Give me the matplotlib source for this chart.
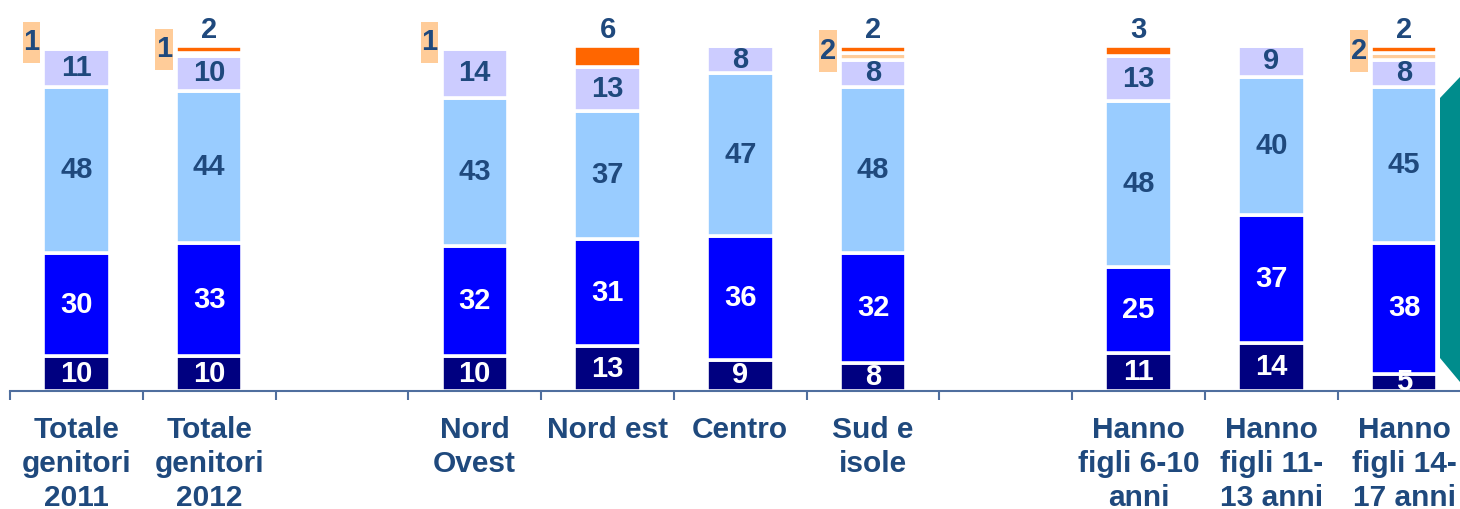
import matplotlib
matplotlib.use("Agg")
import matplotlib.pyplot as plt
from matplotlib.patches import Polygon, Rectangle

plt.rcParams['font.family'] = ['Liberation Sans', 'DejaVu Sans']

# slot labels; empty strings are the blank gaps between groups
categories = ["Totale\ngenitori\n2011", "Totale\ngenitori\n2012", "",
              "Nord\nOvest", "Nord est", "Centro", "Sud e\nisole", "",
              "Hanno\nfigli 6-10\nanni", "Hanno\nfigli 11-\n13 anni",
              "Hanno\nfigli 14-\n17 anni"]

# series, bottom to top (one value per non-empty category)
s_navy = [10, 10, 10, 13, 9, 8, 11, 14, 5]
s_blue = [30, 33, 32, 31, 36, 32, 25, 37, 38]
s_light = [48, 44, 43, 37, 47, 48, 48, 40, 45]
s_lav = [11, 10, 14, 13, 8, 8, 13, 9, 8]
s_peach = [1, 1, 1, 0, 0, 2, 0, 0, 2]
s_orange = [0, 2, 0, 6, 0, 2, 3, 0, 2]

series = [s_navy, s_blue, s_light, s_lav, s_peach, s_orange]
colors = ['#000080', '#0000FF', '#99CCFF', '#CCCCFF', '#FFCC99', '#FF6600']
txt_colors = ['white', 'white', '#1F497D', '#1F497D', None, None]

label_blue = '#1F497D'
axis_col = '#4F6E9E'
val_size = 21

xs = [i for i, c in enumerate(categories) if c]

fig = plt.figure(figsize=(14.6, 5.09), dpi=100)
ax = fig.add_axes([10 / 1460, 118 / 509, 1450 / 1460, 378 / 509])

bottoms = [0] * len(xs)
for vals, col, tcol in zip(series, colors, txt_colors):
    ax.bar(xs, vals, width=0.5, bottom=bottoms, color=col,
           edgecolor='white', linewidth=2.6, zorder=2)
    for x, v, b in zip(xs, vals, bottoms):
        if v == 0:
            continue
        if tcol is not None:
            ax.text(x, b + v / 2, str(v), ha='center', va='center',
                    color=tcol, fontsize=val_size, fontweight='bold', zorder=3)
        elif col == '#FFCC99':
            # small peach values sit left of the bar in a tall box
            yc = b + v / 2 + 1.5
            ax.add_patch(Rectangle((x - 0.405, yc - 6.0), 0.13, 12.0,
                                   fc='#FFCC99', ec='none', zorder=2))
            ax.text(x - 0.34, yc, str(v), ha='center', va='center',
                    color=label_blue, fontsize=val_size, fontweight='bold',
                    zorder=3)
        else:
            ax.text(x, b + v + 4.5, str(v), ha='center', va='center',
                    color=label_blue, fontsize=val_size, fontweight='bold',
                    zorder=3)
    bottoms = [b + v for b, v in zip(bottoms, vals)]

ax.set_xlim(-0.5, 10.42)
ax.set_ylim(0, 109.5)

for s in ['top', 'right', 'left']:
    ax.spines[s].set_visible(False)
ax.spines['bottom'].set_color(axis_col)
ax.spines['bottom'].set_linewidth(1.5)
ax.set_yticks([])

ax.set_xticks([i - 0.5 for i in range(len(categories))])
ax.set_xticklabels([])
ax.tick_params(axis='x', which='major', direction='out', length=6.5,
               width=1.5, color=axis_col)
ax.set_xticks(range(len(categories)), minor=True)
ax.set_xticklabels(categories, minor=True, fontsize=21.5, fontweight='bold',
                   color=label_blue, linespacing=1.27)
ax.tick_params(axis='x', which='minor', length=0, pad=18)

# teal shape cut off at the right edge
pts = [(1440, 98), (1460, 77), (1460, 382), (1440, 358)]
fig.patches.append(Polygon([(x / 1460, 1 - y / 509) for x, y in pts],
                           closed=True, fc='#008C8C', ec='none',
                           transform=fig.transFigure))

fig.savefig("out.png", dpi=100)
